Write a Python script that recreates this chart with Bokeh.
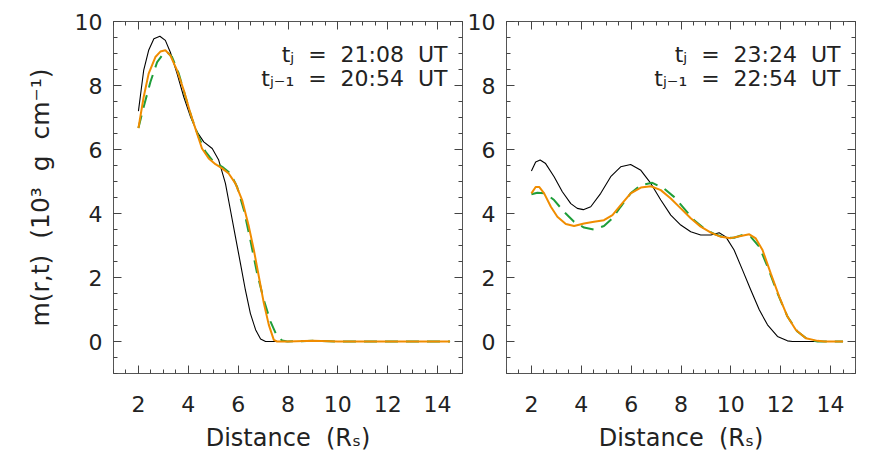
from bokeh.plotting import figure
from bokeh.models import SingleIntervalTicker, LinearAxis, Label, Range1d
from bokeh.layouts import row
from bokeh.embed import file_html
from bokeh.resources import INLINE

# ---- data ----
# left panel: t_j = 21:08 UT, t_{j-1} = 20:54 UT
l_black_x = [2.0, 2.21, 2.41, 2.62, 2.86, 3.08, 3.28, 3.55, 3.82, 4.09, 4.35, 4.62, 4.96, 5.22, 5.49, 5.69,
             5.89, 6.09, 6.29, 6.49, 6.7, 6.9, 7.1, 8.0, 10.0, 12.0, 14.5]
l_black_y = [7.2, 8.47, 9.1, 9.46, 9.54, 9.41, 9.04, 8.37, 7.64, 7.02, 6.55, 6.24, 6.03, 5.67, 4.94, 4.11,
             3.28, 2.45, 1.61, 0.88, 0.37, 0.08, 0.0, 0.0, 0.0, 0.0, 0.0]

l_orange_x = [2.0, 2.21, 2.41, 2.68, 2.88, 3.08, 3.28, 3.55, 3.82, 4.09, 4.35, 4.55, 4.82, 5.09, 5.36, 5.62,
              5.89, 6.16, 6.43, 6.63, 6.83, 7.03, 7.23, 7.43, 7.56, 8.0, 9.0, 10.0, 12.0, 14.5]
l_orange_y = [6.67, 7.64, 8.37, 8.89, 9.06, 9.1, 8.94, 8.47, 7.85, 7.12, 6.5, 6.03, 5.72, 5.54, 5.41, 5.25,
              4.94, 4.42, 3.59, 2.86, 2.03, 1.2, 0.52, 0.05, 0.0, 0.0, 0.02, 0.0, 0.0, 0.0]

l_green_x = [2.0, 2.21, 2.48, 2.75, 3.02, 3.15, 3.35, 3.62, 3.89, 4.15, 4.42, 4.69, 5.02, 5.36, 5.69, 5.96,
             6.23, 6.49, 6.76, 7.03, 7.3, 7.56, 7.77, 7.97, 9.0, 10.0, 12.0, 14.5]
l_green_y = [6.67, 7.33, 8.11, 8.73, 9.01, 9.05, 8.89, 8.37, 7.64, 6.96, 6.39, 5.93, 5.61, 5.46, 5.25, 4.83,
             4.11, 3.17, 2.13, 1.3, 0.62, 0.16, 0.03, 0.0, 0.02, 0.0, 0.0, 0.0]

# right panel: t_j = 23:24 UT, t_{j-1} = 22:54 UT
r_black_x = [2.0, 2.17, 2.35, 2.57, 2.91, 3.24, 3.58, 3.84, 4.08, 4.38, 4.78, 5.18, 5.58, 5.98, 6.39, 6.79,
             7.19, 7.59, 7.99, 8.39, 8.79, 9.2, 9.53, 9.8, 10.13, 10.47, 10.8, 11.14, 11.47, 11.87, 12.27,
             12.47, 13.5, 14.5]
r_black_y = [5.33, 5.61, 5.67, 5.56, 5.15, 4.68, 4.31, 4.16, 4.12, 4.21, 4.63, 5.15, 5.46, 5.53, 5.35, 4.94,
             4.42, 3.95, 3.64, 3.43, 3.33, 3.33, 3.4, 3.27, 2.86, 2.23, 1.61, 0.99, 0.52, 0.16, 0.02,
             0.0, 0.0, 0.0]

r_orange_x = [2.0, 2.17, 2.31, 2.51, 2.78, 3.04, 3.38, 3.71, 4.11, 4.51, 4.91, 5.25, 5.58, 5.98, 6.39, 6.79,
              7.19, 7.59, 7.99, 8.39, 8.79, 9.2, 9.6, 10.0, 10.4, 10.74, 11.0, 11.27, 11.6, 11.94, 12.27,
              12.61, 13.01, 13.48, 13.75, 14.5]
r_orange_y = [4.63, 4.83, 4.83, 4.63, 4.21, 3.9, 3.67, 3.61, 3.69, 3.74, 3.79, 3.95, 4.26, 4.63, 4.81, 4.85,
              4.73, 4.47, 4.16, 3.85, 3.59, 3.4, 3.27, 3.23, 3.3, 3.35, 3.22, 2.86, 2.13, 1.4, 0.78,
              0.36, 0.1, 0.02, 0.0, 0.0]

r_green_x = [2.0, 2.24, 2.57, 2.91, 3.31, 3.71, 4.11, 4.51, 4.91, 5.25, 5.58, 5.98, 6.39, 6.85, 7.32, 7.72,
             8.12, 8.53, 8.93, 9.33, 9.73, 10.13, 10.47, 10.8, 11.14, 11.47, 11.87, 12.27, 12.67, 13.07,
             13.48, 14.5]
r_green_y = [4.6, 4.65, 4.63, 4.42, 4.05, 3.74, 3.56, 3.5, 3.61, 3.85, 4.21, 4.63, 4.89, 4.96, 4.78, 4.52,
             4.16, 3.79, 3.53, 3.36, 3.25, 3.24, 3.33, 3.27, 2.96, 2.34, 1.51, 0.78, 0.31, 0.07,
             0.0, 0.0]

left_times = ["21:08", "20:54"]
right_times = ["23:24", "22:54"]

x_ticks_interval = 2
y_ticks_interval = 2

FONT = "DejaVu Sans"
TXT = "#222222"
ORANGE = "#f08c00"
GREEN = "#1f9e3a"
SP = "\u00a0\u00a0"

FRAME_W = 349
FRAME_H = 352
TOP = 21
BOTTOM = 82


def style_axis(ax, show_labels):
    ax.major_tick_in = 8
    ax.major_tick_out = 0
    ax.minor_tick_in = 4
    ax.minor_tick_out = 0
    ax.axis_line_color = None
    ax.major_tick_line_color = "#444444"
    ax.minor_tick_line_color = "#444444"
    ax.major_label_text_font = FONT
    ax.major_label_text_font_size = "22px"
    ax.major_label_text_color = TXT
    ax.axis_label_text_font = FONT
    ax.axis_label_text_font_size = "24px"
    ax.axis_label_text_font_style = "normal"
    ax.axis_label_text_color = TXT
    if not show_labels:
        ax.major_label_text_font_size = "0px"
        ax.major_label_text_color = None


def make_panel(bx, by, ox, oy, gx, gy, times, left_border, right_border, ylabel):
    p = figure(width=left_border + FRAME_W + right_border, height=TOP + FRAME_H + BOTTOM,
               output_backend="svg", toolbar_location=None,
               x_range=Range1d(1, 15), y_range=Range1d(-1, 10),
               min_border_left=left_border, min_border_right=right_border,
               min_border_top=TOP, min_border_bottom=BOTTOM,
               x_axis_location=None, y_axis_location=None)
    p.grid.visible = False
    p.outline_line_color = "#555555"
    p.outline_line_width = 1
    p.background_fill_color = "white"
    p.border_fill_color = "white"

    xt = SingleIntervalTicker(interval=x_ticks_interval, num_minor_ticks=4)
    yt = SingleIntervalTicker(interval=y_ticks_interval, num_minor_ticks=4)

    xb = LinearAxis(ticker=xt, axis_label="Distance" + SP + "(Rₛ)")
    style_axis(xb, True)
    xb.major_label_standoff = 22
    xb.axis_label_standoff = 9
    p.add_layout(xb, "below")

    xa = LinearAxis(ticker=xt)
    style_axis(xa, False)
    p.add_layout(xa, "above")

    yl = LinearAxis(ticker=yt, axis_label=ylabel)
    style_axis(yl, True)
    yl.major_label_standoff = 11
    yl.axis_label_standoff = 17
    yl.axis_label_text_font_size = "25px"
    p.add_layout(yl, "left")

    yr = LinearAxis(ticker=yt)
    style_axis(yr, False)
    p.add_layout(yr, "right")

    p.line(bx, by, line_color="black", line_width=1.1)
    p.line(gx, gy, line_color=GREEN, line_width=2, line_dash="13 8")
    p.line(ox, oy, line_color=ORANGE, line_width=2)

    l1 = Label(x=14.4, y=8.97, text="tⱼ" + SP + "=" + SP + times[0] + SP + "UT",
               text_align="right", text_baseline="alphabetic", text_font=FONT,
               text_font_size="22px", text_color=TXT)
    l2 = Label(x=14.4, y=8.22, text="tⱼ₋₁" + SP + "=" + SP + times[1] + SP + "UT",
               text_align="right", text_baseline="alphabetic", text_font=FONT,
               text_font_size="22px", text_color=TXT)
    p.add_layout(l1)
    p.add_layout(l2)
    return p


p1 = make_panel(l_black_x, l_black_y, l_orange_x, l_orange_y, l_green_x, l_green_y,
                left_times, 113, 1, "m(r,t)" + SP + "(10³" + SP + "g" + SP + "cm⁻¹)")
p2 = make_panel(r_black_x, r_black_y, r_orange_x, r_orange_y, r_green_x, r_green_y,
                right_times, 43, 5, "")

p = row(p1, p2)
open("out.html", "w").write(file_html(p, INLINE))
